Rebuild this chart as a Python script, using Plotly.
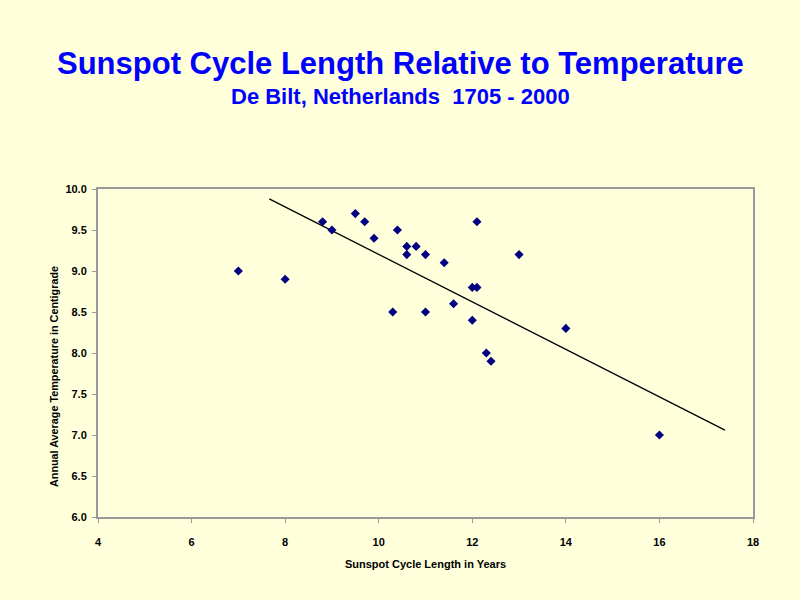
import plotly.graph_objects as go

cycle_length = [7, 8, 8.8, 9, 9.5, 9.7, 9.9, 10.4, 10.6, 10.6, 10.8, 11, 11.4,
                10.3, 11, 11.6, 12, 12.1, 12.1, 12, 13, 12.3, 12.4, 14, 16]
temperature = [9.0, 8.9, 9.6, 9.5, 9.7, 9.6, 9.4, 9.5, 9.3, 9.2, 9.3, 9.2, 9.1,
               8.5, 8.5, 8.6, 8.8, 8.8, 9.6, 8.4, 9.2, 8.0, 7.9, 8.3, 7.0]
trend_x = [7.66, 17.4]
trend_y = [9.88, 7.06]

bg = "#FFFFDC"
axis_font = dict(family="Liberation Sans, Arial", size=11, color="black", weight="bold")

W, H = 800, 600
ML, MR, MT, MB = 98, 47, 189, 83
plot_w = W - ML - MR
plot_h = H - MT - MB

def xpaper(px):
    return (px - ML) / plot_w

def ypaper(py):
    return (H - MB - py) / plot_h

fig = go.Figure()
fig.add_trace(go.Scatter(x=trend_x, y=trend_y, mode="lines",
                         line=dict(color="black", width=1.3), hoverinfo="skip"))
fig.add_trace(go.Scatter(x=cycle_length, y=temperature, mode="markers",
                         marker=dict(symbol="diamond", size=7, color="#000080")))

fig.update_layout(
    width=W, height=H,
    paper_bgcolor=bg, plot_bgcolor=bg,
    showlegend=False,
    margin=dict(l=ML, r=MR, t=MT, b=MB),
    annotations=[
        dict(text="Sunspot Cycle Length Relative to Temperature",
             x=xpaper(400), y=ypaper(63), xref="paper", yref="paper",
             showarrow=False, xanchor="center", yanchor="middle",
             font=dict(family="Liberation Sans, Arial", size=31, color="#0000FF", weight="bold")),
        dict(text="De Bilt, Netherlands&nbsp;&nbsp;1705 - 2000",
             x=xpaper(400), y=ypaper(97), xref="paper", yref="paper",
             showarrow=False, xanchor="center", yanchor="middle",
             font=dict(family="Liberation Sans, Arial", size=22, color="#0000FF", weight="bold")),
        dict(text="Annual Average Temperature in Centigrade",
             x=xpaper(54), y=ypaper(377), xref="paper", yref="paper", textangle=-90,
             showarrow=False, xanchor="center", yanchor="middle",
             font=dict(family="Liberation Sans, Arial", size=10.8, color="black", weight="bold")),
    ],
)

fig.update_xaxes(range=[4, 18], dtick=2, tick0=4, showgrid=False, zeroline=False,
                 showline=True, linecolor="#999999", linewidth=2, mirror=True,
                 ticks="outside", ticklen=4, tickcolor="#999999",
                 tickfont=axis_font, ticklabelstandoff=10,
                 title=dict(text="Sunspot Cycle Length in Years", font=axis_font, standoff=13))
fig.update_yaxes(range=[6, 10], dtick=0.5, tick0=6, tickformat=".1f", showgrid=False,
                 zeroline=False, showline=True, linecolor="#999999", linewidth=2, mirror=True,
                 ticks="outside", ticklen=4, tickcolor="#999999",
                 tickfont=axis_font, ticklabelstandoff=3)

fig.write_html("out.html", config={"displayModeBar": False},
               post_script="document.body.style.margin='0';document.body.style.background='%s';" % bg)
